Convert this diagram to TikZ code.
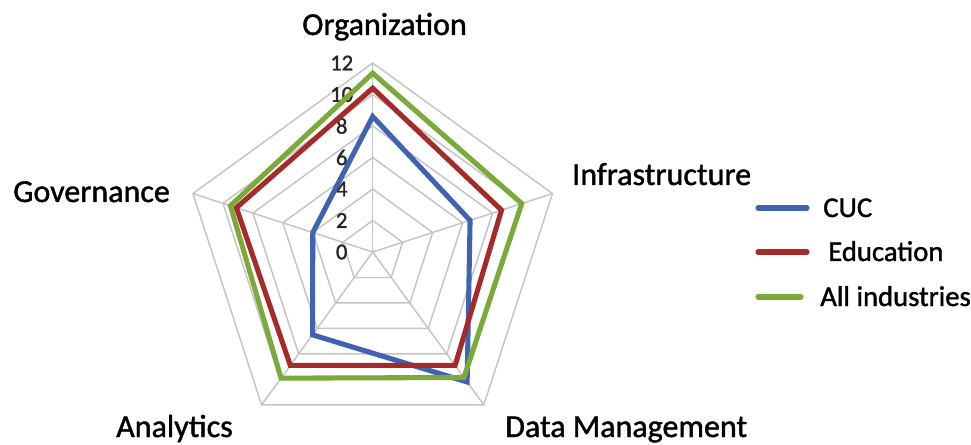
\documentclass[tikz,border=0pt]{standalone}
\usepackage{fontspec}
\setmainfont{Carlito}
\newfontfamily\heavyfont{Carlito}[FakeBold=1.3]
\definecolor{gridgray}{HTML}{C4C4C4}
\definecolor{cucblue}{HTML}{3F63AE}
\definecolor{edured}{HTML}{A52A2A}
\definecolor{allgreen}{HTML}{7BAA3A}
\begin{document}
\begin{tikzpicture}[x=0.75pt,y=-0.75pt,
  gridline/.style={draw=gridgray,line width=1.1pt,line join=miter},
  series/.style={line width=3.8pt,line join=miter},
  axislabel/.style={font=\heavyfont\fontsize{24}{28}\selectfont,anchor=base west,inner sep=0pt,text=black},
  ticklabel/.style={font=\heavyfont\fontsize{17}{19}\selectfont,anchor=center,inner sep=0pt,text=black!85},
  legendtext/.style={font=\heavyfont\fontsize{21.5}{25}\selectfont,anchor=base west,inner sep=0pt,text=black},
  legendline/.style={line width=3.8pt,line cap=round}]
\useasboundingbox (0,0) rectangle (971,445);
\def\u{15.75}
\begin{scope}[shift={(372.7,252)}]
  % rings
  \foreach \k in {2,4,...,12}{
    \draw[gridline] (-90:\k*\u) -- (-18:\k*\u) -- (54:\k*\u) -- (126:\k*\u) -- (198:\k*\u) -- cycle;
  }
  % spokes
  \foreach \a in {-90,-18,54,126,198}{
    \draw[gridline] (0,0) -- (\a:12*\u);
  }
  % tick labels
  \foreach \k in {0,2,...,12}{
    \node[ticklabel] (t\k) at (-31,-\k*\u) {\k};
  }
  % series
  \draw[series,cucblue] (-90:8.6*\u) -- (-18:6.5*\u) -- (54:10.2*\u) -- (126:6.5*\u) -- (198:4.0*\u) -- cycle;
  \draw[series,edured] (-90:10.4*\u) -- (-18:8.6*\u) -- (54:8.9*\u) -- (126:8.9*\u) -- (198:9.1*\u) -- cycle;
  \draw[series,allgreen] (-90:11.35*\u) -- (-18:9.95*\u) -- (54:9.85*\u) -- (126:9.9*\u) -- (198:9.5*\u) -- cycle;
\end{scope}
% axis labels
\node[axislabel] (org) at (302,35) {Organization};
\node[axislabel] (infra) at (572,185) {Infrastructure};
\node[axislabel] (gov) at (13,202) {Governance};
\node[axislabel] (ana) at (116,437) {Analytics};
\node[axislabel] (dm) at (505,437) {Data Management};
% legend
\coordinate (l1a) at (758,208); \coordinate (l1b) at (807,208);
\coordinate (l2a) at (758,252); \coordinate (l2b) at (807,252);
\coordinate (l3a) at (758,297); \coordinate (l3b) at (801,297);
\draw[legendline,cucblue] (l1a) -- (l1b);
\draw[legendline,edured] (l2a) -- (l2b);
\draw[legendline,allgreen] (l3a) -- (l3b);
\node[legendtext] (lg1) at (823,217) {CUC};
\node[legendtext] (lg2) at (828,261) {Education};
\node[legendtext] (lg3) at (820,306) {All industries};
\end{tikzpicture}
\end{document}
